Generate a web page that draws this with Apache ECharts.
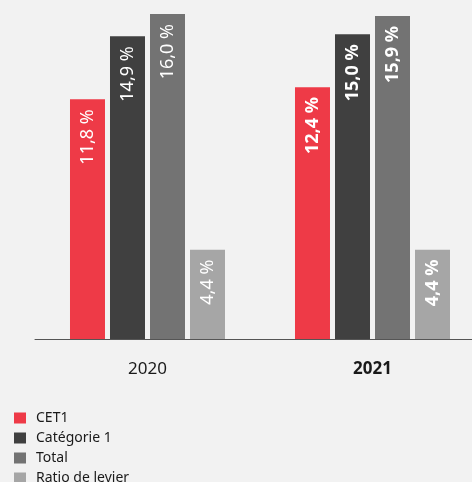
<!DOCTYPE html>
<html>
<head>
<meta charset="utf-8">
<script src="https://cdn.jsdelivr.net/npm/echarts@6/dist/echarts.min.js"></script>
<style>
  html, body { margin: 0; padding: 0; background: #f2f2f2; overflow: hidden; }
  #chart { width: 490px; height: 500px; }
</style>
</head>
<body>
<div id="chart"></div>
<script>
// Capital ratios by year (in %)
const years = ['2020', '2021'];
const seriesNames = ['CET1', 'Catégorie 1', 'Total', 'Ratio de levier'];
const cet1 = [11.8, 12.4];
const tier1 = [14.9, 15.0];
const total = [16.0, 15.9];
const leverage = [4.4, 4.4];
const colors = ['#ee3a47', '#404040', '#737373', '#a6a6a6'];
const highlightYear = 1; // latest year shown in bold

const FONT = '"Noto Sans", sans-serif';

function fmt(v) {
  return v.toFixed(1).replace('.', ',') + ' %';
}

function makeSeries(name, values, color) {
  return {
    name: name,
    type: 'bar',
    barWidth: 35,
    barGap: '14.3%',
    itemStyle: { color: color },
    label: {
      show: true,
      position: 'insideTop',
      rotate: 90,
      align: 'right',
      verticalAlign: 'middle',
      distance: 10,
      color: '#ffffff',
      fontSize: 18,
      fontFamily: FONT,
      formatter: p => fmt(p.value)
    },
    data: values.map((v, i) => ({
      value: v,
      label: { fontWeight: i === highlightYear ? 'bold' : 'normal' }
    }))
  };
}

const chart = echarts.init(document.getElementById('chart'), null, { renderer: 'canvas' });
chart.setOption({
  backgroundColor: '#f2f2f2',
  animation: false,
  color: colors,
  grid: { left: 35, width: 450, top: 14, bottom: 161 },
  legend: {
    orient: 'vertical',
    left: 14,
    top: 411,
    padding: 0,
    icon: 'rect',
    itemWidth: 12,
    itemHeight: 11,
    itemGap: 6,
    textStyle: { fontSize: 14, color: '#1a1a1a', fontFamily: FONT, padding: [0, 0, 0, 5] },
    data: seriesNames
  },
  xAxis: {
    type: 'category',
    data: years,
    axisLine: { lineStyle: { color: '#555555', width: 1 } },
    axisTick: { show: false },
    axisLabel: {
      margin: 22,
      fontSize: 17,
      color: '#1a1a1a',
      fontFamily: FONT,
      formatter: (v, i) => i === highlightYear ? '{b|' + v + '}' : v,
      rich: { b: { fontWeight: 'bold', fontSize: 17, color: '#1a1a1a', fontFamily: FONT } }
    }
  },
  yAxis: {
    type: 'value',
    min: 0,
    max: 16,
    show: false,
    splitLine: { show: false }
  },
  series: [
    makeSeries(seriesNames[0], cet1, colors[0]),
    makeSeries(seriesNames[1], tier1, colors[1]),
    makeSeries(seriesNames[2], total, colors[2]),
    makeSeries(seriesNames[3], leverage, colors[3])
  ]
});
</script>
</body>
</html>
